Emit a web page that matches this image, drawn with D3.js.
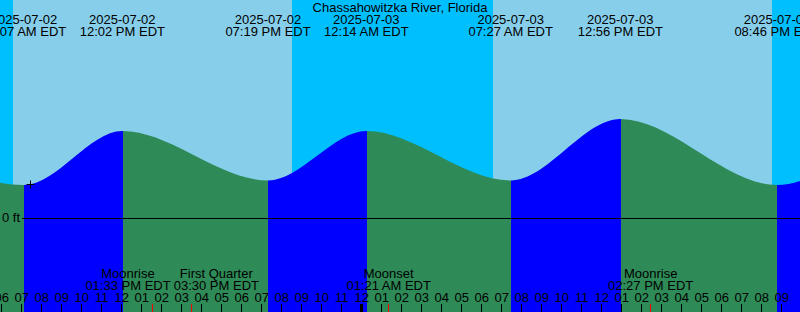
<!DOCTYPE html>
<html>
<head>
<meta charset="utf-8">
<script src="https://cdn.jsdelivr.net/npm/d3@7"></script>
<style>
  html, body { margin: 0; padding: 0; background: #fff; }
  svg { display: block; }
  text { font-family: "Liberation Sans", Arial, sans-serif; font-size: 13px; fill: #000; }
</style>
</head>
<body>
<script>
// tide chart, XTide style

var width = 800, height = 312;

var title = "Chassahowitzka River, Florida";

// high / low tides (local EDT), heights in ft
var tideTimes = ["2025-07-02 00:45", "2025-07-02 07:07", "2025-07-02 12:02", "2025-07-02 19:19",
                 "2025-07-03 00:14", "2025-07-03 07:27", "2025-07-03 12:56", "2025-07-03 20:46",
                 "2025-07-04 01:40"];
var tideHeights = [2.6, 1.1, 2.9, 1.25, 2.9, 1.25, 3.3, 1.1, 2.9];

var sunrise = ["2025-07-02 06:34", "2025-07-03 06:34"];
var sunset = ["2025-07-02 20:31", "2025-07-03 20:31"];

var moonEvents = ["Moonrise", "First Quarter", "Moonset", "Moonrise"];
var moonTimes = ["2025-07-02 13:33", "2025-07-02 15:30", "2025-07-03 01:21", "2025-07-03 14:27"];

var nowTime = "2025-07-02 07:25";

var parse = d3.timeParse("%Y-%m-%d %H:%M");
var fmtDate = d3.timeFormat("%Y-%m-%d");
var fmtTime = function (d) { return d3.timeFormat("%I:%M %p")(d) + " EDT"; };

var x = d3.scaleTime()
    .domain([parse("2025-07-02 05:55"), parse("2025-07-03 21:55")])
    .range([0, width]);
var y = d3.scaleLinear().domain([0, 3]).range([218, 128]);

var tides = tideTimes.map((t, i) => ({ t: parse(t), h: tideHeights[i] }));

var svg = d3.select(document.body).append("svg")
    .attr("width", width)
    .attr("height", height);

// sky: night first, day bands on top
svg.append("rect").attr("width", width).attr("height", height).attr("fill", "#00bfff");
svg.selectAll("rect.day")
    .data(sunrise.map((s, i) => [parse(s), parse(sunset[i])]))
    .join("rect")
    .attr("class", "day")
    .attr("x", (d) => x(d[0]))
    .attr("width", (d) => x(d[1]) - x(d[0]))
    .attr("y", 0)
    .attr("height", height)
    .attr("fill", "#87ceeb");

// water
var area = d3.area()
    .x((d) => x(d.t))
    .y0(height)
    .y1((d) => y(d.h))
    .curve(d3.curveMonotoneX);

svg.append("clipPath").attr("id", "water")
    .append("path").attr("d", area(tides));

svg.append("g")
    .attr("clip-path", "url(#water)")
    .selectAll("rect")
    .data(d3.pairs(tides))
    .join("rect")
    .attr("x", (d) => Math.ceil(x(d[0].t)))
    .attr("width", (d) => Math.ceil(x(d[1].t)) - Math.ceil(x(d[0].t)))
    .attr("y", 0)
    .attr("height", height)
    .attr("fill", (d) => (d[1].h > d[0].h ? "#0000ff" : "#2e8b57"));

// 0 ft line
svg.append("line")
    .attr("x1", 22).attr("x2", width)
    .attr("y1", Math.round(y(0)) + 0.5).attr("y2", Math.round(y(0)) + 0.5)
    .attr("stroke", "#000");
svg.append("text")
    .attr("x", 20).attr("y", y(0) + 4)
    .attr("text-anchor", "end")
    .text("0 ft");

// current time mark on the curve
var line = svg.append("path")
    .attr("d", d3.line().x((d) => x(d.t)).y((d) => y(d.h)).curve(d3.curveMonotoneX)(tides))
    .attr("fill", "none").attr("stroke", "none");
var nx = x(parse(nowTime)), node = line.node(), best = null;
for (var l = 0; l < node.getTotalLength(); l += 0.5) {
    var p = node.getPointAtLength(l);
    if (!best || Math.abs(p.x - nx) < Math.abs(best.x - nx)) best = p;
}
var cx = Math.round(nx) + 0.5, cy = Math.round(best.y) + 0.5;
svg.append("path")
    .attr("d", "M" + (cx - 4) + "," + cy + "H" + (cx + 4) + "M" + cx + "," + (cy - 4) + "V" + (cy + 4))
    .attr("stroke", "#000");

// title and tide labels
svg.append("text")
    .attr("x", width / 2).attr("y", 12)
    .attr("text-anchor", "middle")
    .text(title);

var lab = svg.append("g")
    .attr("text-anchor", "middle")
    .selectAll("text")
    .data(tides.filter((d) => x(d.t) > -60 && x(d.t) < width + 60))
    .join("text")
    .attr("transform", (d) => "translate(" + x(d.t) + ",0)");
lab.append("tspan").attr("x", 0).attr("y", 24).text((d) => fmtDate(d.t));
lab.append("tspan").attr("x", 0).attr("y", 36).text((d) => fmtTime(d.t));

// hour ticks
var hours = x.ticks(d3.timeHour.every(1));
svg.append("g")
    .attr("text-anchor", "middle")
    .selectAll("text")
    .data(hours)
    .join("text")
    .attr("x", (d) => x(d))
    .attr("y", 302)
    .text(d3.timeFormat("%I"));
svg.append("g")
    .selectAll("line")
    .data(hours)
    .join("line")
    .attr("x1", (d) => Math.floor(x(d)) + 0.5)
    .attr("x2", (d) => Math.floor(x(d)) + 0.5)
    .attr("y1", 304).attr("y2", height)
    .attr("stroke", "#000");
svg.append("g")
    .selectAll("rect")
    .data(hours.filter((d) => d.getHours() === 0))
    .join("rect")
    .attr("x", (d) => Math.floor(x(d)) - 1)
    .attr("width", 3)
    .attr("y", 304).attr("height", height - 304)
    .attr("fill", "#000");

// moon events
var moon = moonEvents.map((e, i) => ({ name: e, t: parse(moonTimes[i]) }));
svg.append("g")
    .selectAll("line")
    .data(moon)
    .join("line")
    .attr("x1", (d) => Math.floor(x(d.t)) + 0.5)
    .attr("x2", (d) => Math.floor(x(d.t)) + 0.5)
    .attr("y1", 304).attr("y2", height)
    .attr("stroke", "#f00");

var mlab = svg.append("g")
    .attr("text-anchor", "middle")
    .selectAll("text")
    .data(moon)
    .join("text");
mlab.append("tspan").attr("x", 0).attr("y", 278).text((d) => d.name);
mlab.append("tspan").attr("x", 0).attr("y", 290).text((d) => fmtTime(d.t));

// push overlapping labels apart
var cxs = moon.map((d) => x(d.t));
var ws = [];
mlab.each(function () { ws.push(this.getBBox().width); });
for (var i = 0; i < cxs.length - 1; i++) {
    var need = (ws[i] + ws[i + 1]) / 2 + 3 - (cxs[i + 1] - cxs[i]);
    if (need > 0) { cxs[i] -= need / 2; cxs[i + 1] += need / 2; }
}
mlab.attr("transform", (d, i) => "translate(" + cxs[i] + ",0)");
</script>
</body>
</html>
